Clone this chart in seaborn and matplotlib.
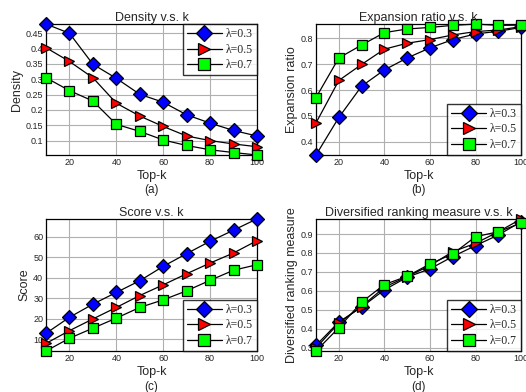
import numpy as np
import pandas as pd
import seaborn as sns
import matplotlib.pyplot as plt

top_k = [10, 20, 30, 40, 50, 60, 70, 80, 90, 100]
lambdas = ["0.3", "0.5", "0.7"]

density_03 = [0.480, 0.450, 0.349, 0.303, 0.251, 0.225, 0.184, 0.157, 0.133, 0.115]
density_05 = [0.403, 0.358, 0.305, 0.222, 0.180, 0.146, 0.115, 0.100, 0.089, 0.080]
density_07 = [0.305, 0.263, 0.229, 0.153, 0.130, 0.102, 0.084, 0.070, 0.061, 0.053]

expansion_03 = [0.349, 0.494, 0.615, 0.678, 0.724, 0.763, 0.795, 0.817, 0.827, 0.842]
expansion_05 = [0.473, 0.637, 0.699, 0.758, 0.781, 0.795, 0.813, 0.826, 0.832, 0.845]
expansion_07 = [0.571, 0.724, 0.774, 0.822, 0.836, 0.842, 0.850, 0.855, 0.850, 0.851]

score_03 = [12.9, 20.7, 27.1, 32.8, 38.5, 45.5, 51.7, 57.7, 63.1, 68.6]
score_05 = [8.0, 14.2, 19.9, 25.5, 31.3, 36.5, 41.9, 47.1, 52.0, 58.0]
score_07 = [4.3, 10.5, 15.4, 20.3, 25.5, 29.2, 33.6, 38.7, 43.6, 46.3]

drm_03 = [0.312, 0.435, 0.514, 0.605, 0.672, 0.716, 0.781, 0.839, 0.895, 0.965]
drm_05 = [0.298, 0.430, 0.517, 0.619, 0.675, 0.733, 0.807, 0.851, 0.912, 0.980]
drm_07 = [0.282, 0.405, 0.540, 0.633, 0.677, 0.742, 0.795, 0.886, 0.912, 0.958]

panels = [
    ("Density v.s. k", "Density", "(a)", [density_03, density_05, density_07],
     np.arange(0.1, 0.46, 0.05), ["0.1", "0.15", "0.2", "0.25", "0.3", "0.35", "0.4", "0.45"], "upper right"),
    ("Expansion ratio v.s. k", "Expansion ratio", "(b)", [expansion_03, expansion_05, expansion_07],
     [0.4, 0.5, 0.6, 0.7, 0.8], ["0.4", "0.5", "0.6", "0.7", "0.8"], "lower right"),
    ("Score v.s. k", "Score", "(c)", [score_03, score_05, score_07],
     [10, 20, 30, 40, 50, 60], ["10", "20", "30", "40", "50", "60"], "lower right"),
    ("Diversified ranking measure v.s. k", "Diversified ranking measure", "(d)", [drm_03, drm_05, drm_07],
     [0.3, 0.4, 0.5, 0.6, 0.7, 0.8, 0.9], ["0.3", "0.4", "0.5", "0.6", "0.7", "0.8", "0.9"], "lower right"),
]

markers = ["D", ">", "s"]
face_colors = ["#0000ff", "#ff0000", "#00ff00"]

sns.set_style("white")
plt.rcParams["font.family"] = ["Liberation Sans", "DejaVu Sans"]

fig = plt.figure(figsize=(5.26, 3.92), dpi=100)
positions = [
    [0.0875, 0.6046, 0.401, 0.334],
    [0.6008, 0.6046, 0.390, 0.334],
    [0.0875, 0.1046, 0.401, 0.337],
    [0.6008, 0.1046, 0.390, 0.337],
]

for pos, (title, ylabel, tag, series, yticks, ylabels, loc) in zip(positions, panels):
    ax = fig.add_axes(pos)
    for vals, lam, mk, fc in zip(series, lambdas, markers, face_colors):
        df = pd.DataFrame({"k": top_k, "v": vals})
        sns.lineplot(data=df, x="k", y="v", ax=ax, color="black", linewidth=0.9,
                     marker=mk, markersize=7.5 if mk != "D" else 7, markerfacecolor=fc,
                     markeredgecolor="black", markeredgewidth=0.9,
                     label="\u03bb=" + lam, clip_on=False, zorder=3)
    allv = np.concatenate(series)
    ax.set_xlim(10, 100)
    ax.set_ylim(allv.min(), allv.max())
    ax.set_xticks([20, 40, 60, 80, 100])
    ax.set_yticks(yticks)
    ax.set_yticklabels(ylabels)
    ax.tick_params(labelsize=6.5, direction="in", length=2, width=0.6, pad=2)
    ax.grid(True, color="#b0b0b0", linewidth=0.8)
    for s in ax.spines.values():
        s.set_color("black")
        s.set_linewidth(0.9)
    ax.set_title(title, fontsize=9, pad=2)
    ax.set_xlabel("Top-k", fontsize=9, labelpad=2)
    ax.set_ylabel(ylabel, fontsize=9, labelpad=2)
    ax.text(0.5, -0.27, tag, transform=ax.transAxes, ha="center", va="center", fontsize=8.5)
    leg = ax.legend(loc=loc, fancybox=False, frameon=True, edgecolor="black",
                    prop={"family": "Liberation Serif", "size": 8.5}, handlelength=3,
                    markerscale=1.1, borderaxespad=0, borderpad=0.35, labelspacing=0.3,
                    handletextpad=0.3)
    leg.get_frame().set_linewidth(1.0)
    leg.set_zorder(5)

fig.savefig("out.png", dpi=100)
